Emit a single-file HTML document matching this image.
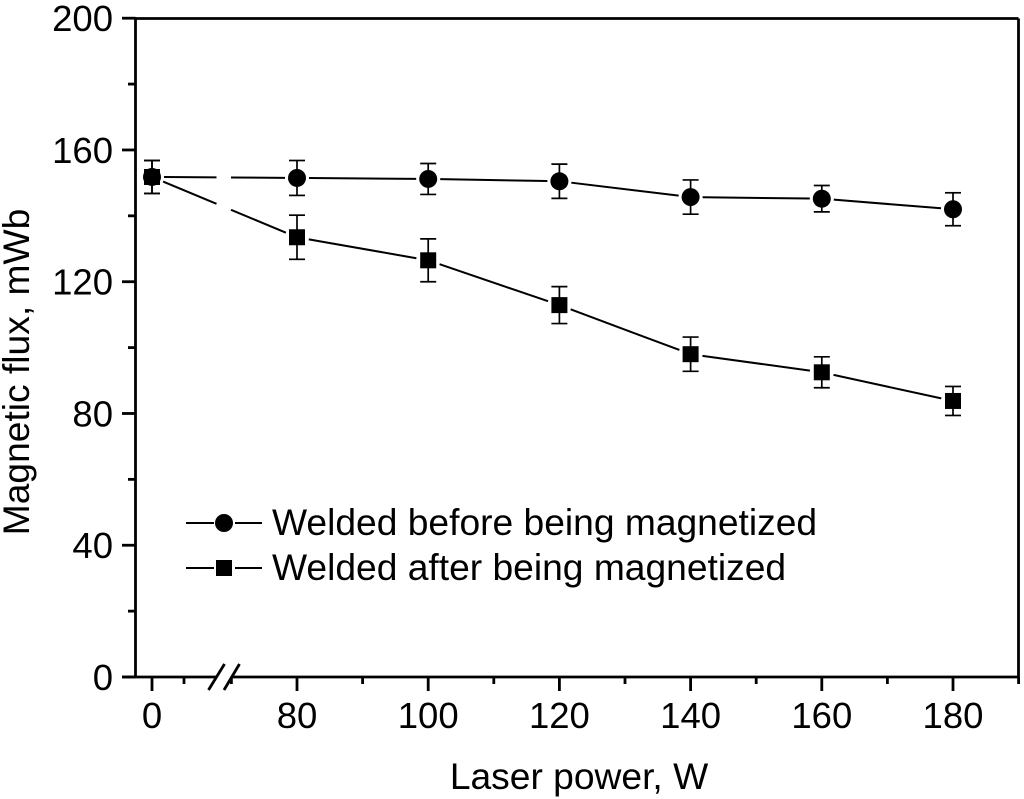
<!DOCTYPE html>
<html>
<head>
<meta charset="utf-8">
<title>Magnetic flux vs laser power</title>
<style>
html,body{margin:0;padding:0;background:#fff;}
svg{display:block;}
text{font-family:"Liberation Sans",sans-serif;fill:#000;}
</style>
</head>
<body>
<svg id="chart" width="1024" height="799" viewBox="0 0 1024 799" xmlns="http://www.w3.org/2000/svg">
  <rect width="1024" height="799" fill="#fff"/>
  <g id="frame"></g>
  <g id="series"></g>
  <g id="legend">
    <line x1="186" x2="214" y1="523" y2="523" stroke="#000" stroke-width="2"/>
    <line x1="235" x2="262" y1="523" y2="523" stroke="#000" stroke-width="2"/>
    <circle cx="224" cy="523" r="9" fill="#000"/>
    <text x="272" y="535" font-size="37.2">Welded before being magnetized</text>
    <line x1="186" x2="214" y1="568" y2="568" stroke="#000" stroke-width="2"/>
    <line x1="235" x2="262" y1="568" y2="568" stroke="#000" stroke-width="2"/>
    <rect x="216" y="560" width="16" height="16" fill="#000"/>
    <text x="272" y="580" font-size="37.2">Welded after being magnetized</text>
  </g>
  <text x="579" y="789" font-size="37.2" text-anchor="middle">Laser power, W</text>
  <text transform="translate(29,372) rotate(-90)" font-size="37.2" text-anchor="middle">Magnetic flux, mWb</text>
</svg>
<script>
const categories = [0, 80, 100, 120, 140, 160, 180];
const beforeValues = [151.8, 151.5, 151.2, 150.5, 145.7, 145.2, 142];
const beforeErrors = [5, 5.3, 4.7, 5.2, 5.2, 4, 5];
const afterValues = [151.8, 133.5, 126.5, 112.9, 98, 92.5, 83.8];
const afterErrors = [5, 6.7, 6.5, 5.6, 5.2, 4.7, 4.4];
const yMajorTicks = [0, 40, 80, 120, 160, 200];
const yMinorTicks = [20, 60, 100, 140, 180];
const xMajorTicks = [0, 80, 100, 120, 140, 160, 180];
const xMinorTicks = [70, 90, 110, 130, 150, 170, 190];
const xOriginMinorTick = 10;

const svgNS = 'http://www.w3.org/2000/svg';
const frame = document.getElementById('frame');
const seriesG = document.getElementById('series');

function xScale(v) {
  if (v < 60) return 152 + v * 3.2;
  return 297 + (v - 80) * 6.56;
}
function yScale(v) {
  return 677 - v * 3.294;
}
function make(parent, tag, attrs, name) {
  const el = document.createElementNS(svgNS, tag);
  for (const k in attrs) el.setAttribute(k, attrs[k]);
  
  
  parent.appendChild(el);
  return el;
}
function line(parent, x1, y1, x2, y2, w, name) {
  return make(parent, 'line', {x1: x1, y1: y1, x2: x2, y2: y2, stroke: '#000', 'stroke-width': w}, name);
}

const L = 135.5, R = 1018.5, T = 18.5, B = 677;
line(frame, L, T, R, T, 2.8, 'top-border');
line(frame, R, T, R, B, 2.8, 'right-border');
line(frame, L, T, L, B, 2.8, 'y-axis-line');
line(frame, 122, B, 216, B, 2.8, 'x-axis-line-left');
line(frame, 231, B, R, B, 2.8, 'x-axis-line-right');

yMajorTicks.forEach(function (v) {
  const y = yScale(v);
  line(frame, 122, y, L, y, 2.8, 'y-tick-' + v);
  const t = make(frame, 'text', {x: 113, y: y + 13, 'font-size': 36.5, 'text-anchor': 'end'}, 'y-tick-label-' + v);
  t.textContent = String(v);
});
yMinorTicks.forEach(function (v) {
  const y = yScale(v);
  line(frame, 128, y, L, y, 2.8, 'y-minor-tick-' + v);
});
xMajorTicks.forEach(function (v) {
  const x = xScale(v);
  line(frame, x, B, x, 691, 2.8, 'x-tick-' + v);
  const t = make(frame, 'text', {x: x, y: 728, 'font-size': 36.5, 'text-anchor': 'middle'}, 'x-tick-label-' + v);
  t.textContent = String(v);
});
xMinorTicks.forEach(function (v) {
  const x = xScale(v);
  line(frame, x, B, x, 684, 2.8, 'x-minor-tick-' + v);
});
line(frame, xScale(xOriginMinorTick), B, xScale(xOriginMinorTick), 684, 2.8, 'x-minor-tick-origin');
line(frame, 208.5, 690, 224.5, 664, 2.8, 'axis-break-slash-left');
line(frame, 224, 690, 239.5, 664, 2.8, 'axis-break-slash-right');

const MARKER_GAP = 12;
const BREAK_LEFT = 216.5, BREAK_RIGHT = 231;

function drawSegment(x1, y1, x2, y2, name) {
  line(seriesG, x1, y1, x2, y2, 2, name);
}
function drawSeries(values, errors, kind) {
  for (let i = 0; i < categories.length - 1; i++) {
    const x1 = xScale(categories[i]), y1 = yScale(values[i]);
    const x2 = xScale(categories[i + 1]), y2 = yScale(values[i + 1]);
    const d = Math.hypot(x2 - x1, y2 - y1);
    const ux = (x2 - x1) / d, uy = (y2 - y1) / d;
    const sx = x1 + ux * MARKER_GAP, sy = y1 + uy * MARKER_GAP;
    const ex = x2 - ux * MARKER_GAP, ey = y2 - uy * MARKER_GAP;
    const segName = kind + '-line-segment-' + i;
    if (x1 < BREAK_LEFT && x2 > BREAK_RIGHT) {
      const m = (y2 - y1) / (x2 - x1);
      drawSegment(sx, sy, BREAK_LEFT, y1 + m * (BREAK_LEFT - x1), segName + '-a');
      drawSegment(BREAK_RIGHT, y1 + m * (BREAK_RIGHT - x1), ex, ey, segName + '-b');
    } else {
      drawSegment(sx, sy, ex, ey, segName);
    }
  }
  categories.forEach(function (c, i) {
    const x = xScale(c), y = yScale(values[i]);
    const hi = yScale(values[i] + errors[i]), lo = yScale(values[i] - errors[i]);
    line(seriesG, x, hi, x, lo, 1.7, kind + '-error-bar-' + c);
    line(seriesG, x - 8, hi, x + 8, hi, 1.7, kind + '-error-cap-high-' + c);
    line(seriesG, x - 8, lo, x + 8, lo, 1.7, kind + '-error-cap-low-' + c);
    if (kind === 'before') {
      make(seriesG, 'circle', {cx: x, cy: y, r: 9, fill: '#000'}, 'before-point-' + c);
    } else {
      make(seriesG, 'rect', {x: x - 8, y: y - 8, width: 16, height: 16, fill: '#000'}, 'after-point-' + c);
    }
  });
}
drawSeries(afterValues, afterErrors, 'after');
drawSeries(beforeValues, beforeErrors, 'before');
</script>
</body>
</html>
